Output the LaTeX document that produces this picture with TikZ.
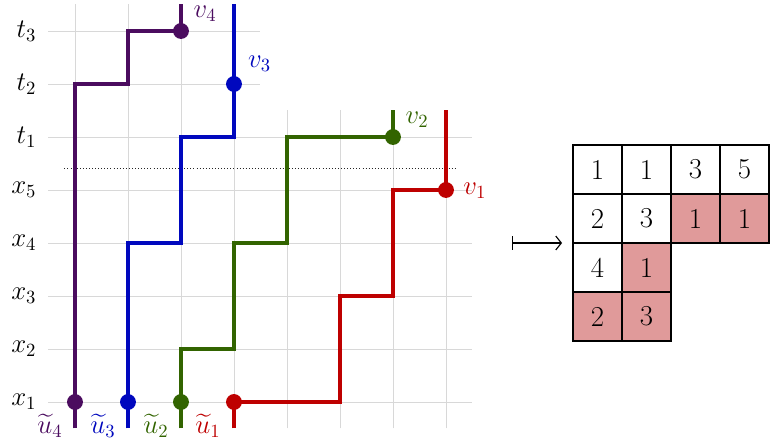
\RequirePackage{fix-cm}
\documentclass[tikz,border=0pt]{standalone}
\usepackage{amsmath}
\usetikzlibrary{arrows.meta}
\definecolor{cpur}{RGB}{75,12,95}
\definecolor{cblu}{RGB}{0,8,190}
\definecolor{cgrn}{RGB}{50,100,0}
\definecolor{cred}{RGB}{190,0,0}
\definecolor{cpink}{RGB}{224,154,154}
\definecolor{cgrid}{RGB}{216,216,216}
\tikzset{
  gridline/.style={draw=cgrid, line width=0.5pt},
  lpath/.style={line width=1.7pt},
  lab/.style={inner sep=0pt},
  cell/.style={draw=black, line width=0.7pt, minimum size=0.9245cm, inner sep=0pt,
    font=\fontsize{15.5}{18}\selectfont},
  pcell/.style={cell, fill=cpink},
}
\begin{document}
\begin{tikzpicture}[x=1cm,y=1cm,font=\fontsize{14.4}{17}\selectfont]
\useasboundingbox (-0.415,0.2075) rectangle (14.189,8.585);
% grid
\foreach \r in {1,...,6} \draw[gridline] (0.5,\r) -- (8.5,\r);
\foreach \r in {7,8} \draw[gridline] (0.5,\r) -- (4.5,\r);
\foreach \c in {1,...,4} \draw[gridline] (\c,0.5) -- (\c,8.5);
\foreach \c in {5,...,8} \draw[gridline] (\c,0.5) -- (\c,6.5);
% dotted separator
\draw[line width=0.45pt, dash pattern=on 0.45pt off 1.2pt, black!85] (0.8,5.4) -- (8.2,5.4);
% row labels
\node[lab, anchor=east] (lx1) at (0.28,1) {$x_1$};
\node[lab, anchor=east] (lx2) at (0.28,2) {$x_2$};
\node[lab, anchor=east] (lx3) at (0.28,3) {$x_3$};
\node[lab, anchor=east] (lx4) at (0.28,4) {$x_4$};
\node[lab, anchor=east] (lx5) at (0.28,5) {$x_5$};
\node[lab, anchor=east] (lt1) at (0.28,6) {$t_1$};
\node[lab, anchor=east] (lt2) at (0.28,7) {$t_2$};
\node[lab, anchor=east] (lt3) at (0.28,8) {$t_3$};
% endpoints
\coordinate (b4) at (1,0.5);
\coordinate (b3) at (2,0.5);
\coordinate (b2) at (3,0.5);
\coordinate (b1) at (4,0.5);
\coordinate (t4) at (3,8.5);
\coordinate (t3) at (4,8.5);
\coordinate (t2) at (7,6.5);
\coordinate (t1) at (8,6.5);
\coordinate (u4) at (1,1);
\coordinate (u3) at (2,1);
\coordinate (u2) at (3,1);
\coordinate (u1) at (4,1);
\coordinate (v4) at (3,8);
\coordinate (v3) at (4,7);
\coordinate (v2) at (7,6);
\coordinate (v1) at (8,5);
% paths
\draw[lpath, cpur] (b4) -- (u4) -- (1,7) -- (2,7) -- (2,8) -- (v4) -- (t4);
\draw[lpath, cblu] (b3) -- (u3) -- (2,4) -- (3,4) -- (3,6) -- (4,6) -- (v3) -- (t3);
\draw[lpath, cgrn] (b2) -- (u2) -- (3,2) -- (4,2) -- (4,4) -- (5,4) -- (5,6) -- (v2) -- (t2);
\draw[lpath, cred] (b1) -- (u1) -- (6,1) -- (6,3) -- (7,3) -- (7,5) -- (v1) -- (t1);
% dots
\fill[cpur] (u4) circle (0.15);
\fill[cblu] (u3) circle (0.15);
\fill[cgrn] (u2) circle (0.15);
\fill[cred] (u1) circle (0.15);
\fill[cpur] (v4) circle (0.15);
\fill[cblu] (v3) circle (0.15);
\fill[cgrn] (v2) circle (0.15);
\fill[cred] (v1) circle (0.15);
% path labels
\node[lab, anchor=west, text=cpur] (lv4) at (3.23,8.33) {$v_4$};
\node[lab, anchor=west, text=cblu] (lv3) at (4.26,7.38) {$v_3$};
\node[lab, anchor=west, text=cgrn] (lv2) at (7.23,6.32) {$v_2$};
\node[lab, anchor=west, text=cred] (lv1) at (8.32,4.98) {$v_1$};
\node[lab, text=cpur] (lu4) at (0.53,0.55) {$\widetilde{u}_4$};
\node[lab, text=cblu] (lu3) at (1.53,0.55) {$\widetilde{u}_3$};
\node[lab, text=cgrn] (lu2) at (2.53,0.55) {$\widetilde{u}_2$};
\node[lab, text=cred] (lu1) at (3.51,0.55) {$\widetilde{u}_1$};
% mapsto arrow
\coordinate (ms) at (9.245,4);
\coordinate (me) at (10.19,4);
\draw[{Bar[width=7pt]}-{Straight Barb[length=3pt,width=7.5pt]}, line width=0.6pt] (ms) -- (me);
% tableau
\node[cell]  (c11) at (10.858,5.387) {1};
\node[cell]  (c12) at (11.783,5.387) {1};
\node[cell]  (c13) at (12.707,5.387) {3};
\node[cell]  (c14) at (13.632,5.387) {5};
\node[cell]  (c21) at (10.858,4.462) {2};
\node[cell]  (c22) at (11.783,4.462) {3};
\node[pcell] (c23) at (12.707,4.462) {1};
\node[pcell] (c24) at (13.632,4.462) {1};
\node[cell]  (c31) at (10.858,3.538) {4};
\node[pcell] (c32) at (11.783,3.538) {1};
\node[pcell] (c41) at (10.858,2.613) {2};
\node[pcell] (c42) at (11.783,2.613) {3};
\end{tikzpicture}
\end{document}
